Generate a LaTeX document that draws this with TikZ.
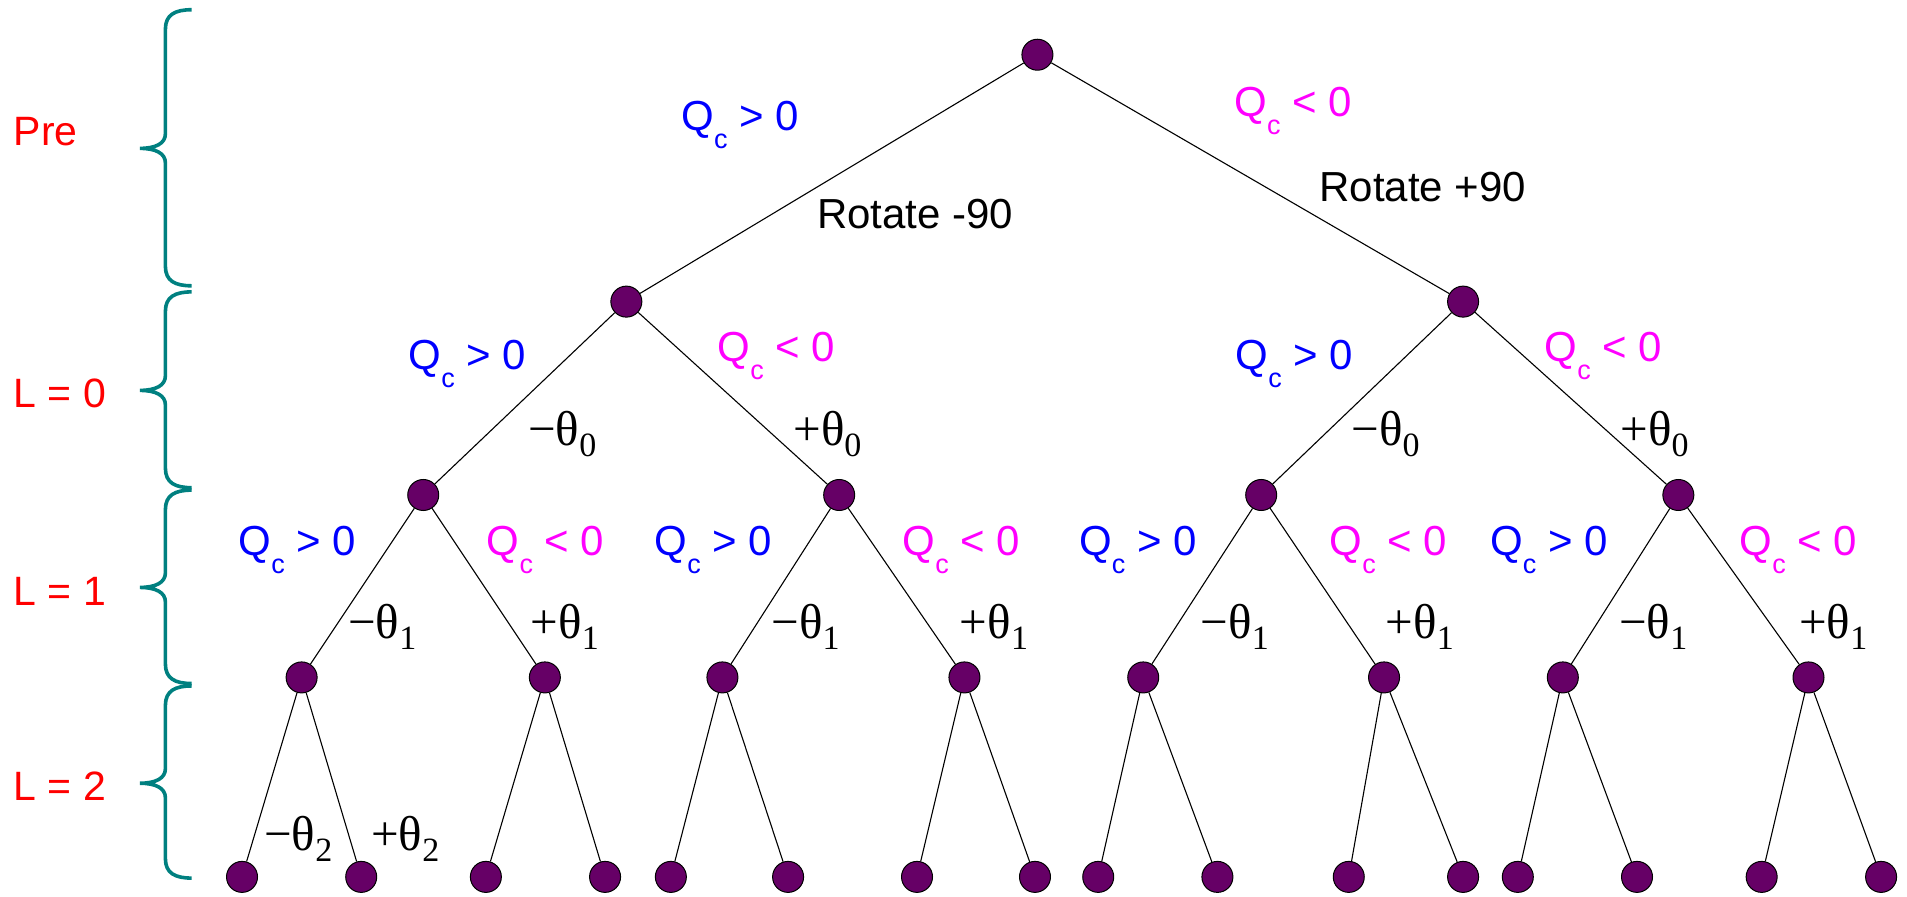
\documentclass[tikz,border=0pt]{standalone}
\usepackage{fontspec}
\setmainfont{Liberation Serif}
\newfontfamily\arialf{Liberation Sans}
\definecolor{nodepurple}{RGB}{102,0,102}
\definecolor{braceteal}{RGB}{0,128,128}
\definecolor{qmag}{RGB}{255,0,255}
\definecolor{qblue}{RGB}{0,0,255}
\definecolor{levred}{RGB}{255,0,0}
\newcommand\qsub{\raisebox{-9pt}{\fontsize{13.5pt}{13.5pt}\selectfont c}}
\newcommand\qgt{\arialf\fontsize{21pt}{21pt}\selectfont Q\qsub{} > 0}
\newcommand\qlt{\arialf\fontsize{21pt}{21pt}\selectfont Q\qsub{} < 0}
\newcommand\thsub[1]{\raisebox{-5.5pt}{\fontsize{17pt}{17pt}\selectfont #1}}
\newcommand\thm[1]{\fontsize{24.5pt}{24.5pt}\selectfont −θ\thsub{#1}}
\newcommand\thp[1]{\fontsize{24.5pt}{24.5pt}\selectfont +θ\thsub{#1}}
\newcommand\tbrace[3]{\draw[bracestyle] (157.6,#1) .. controls (144,#1) and (136,#1+4) .. (136,#1+16) -- (136,#2-12) .. controls (136,#2-4) and (128,#2) .. (115,#2) .. controls (128,#2) and (136,#2+4) .. (136,#2+12) -- (136,#3-16) .. controls (136,#3-4) and (144,#3) .. (157.6,#3);}
\begin{document}
\begin{tikzpicture}[x=0.6081pt,y=-0.6081pt,
  vtx/.style={circle, draw=black, line width=0.5pt, fill=nodepurple, minimum size=15.5pt, inner sep=0pt},
  edge/.style={black, line width=0.55pt},
  lbl/.style={anchor=base west, inner sep=0pt},
  qpos/.style={lbl, text=qblue},
  qneg/.style={lbl, text=qmag},
  lev/.style={lbl, text=levred, font=\arialf\fontsize{20.5pt}{20.5pt}\selectfont},
  bracestyle/.style={draw=braceteal, line width=1.8pt}]
\useasboundingbox (0,0) rectangle (1568,737);
% braces and level labels
\tbrace{8}{122}{235}
\tbrace{240}{321}{401}
\tbrace{403}{483}{562}
\tbrace{564}{644}{722}
\node[lev] (lpre) at (11,120) {Pre};
\node[lev] (l0) at (11,335) {L = 0};
\node[lev] (l1) at (11,497.5) {L = 1};
\node[lev] (l2) at (11,658) {L = 2};
% nodes
\node[vtx] (r) at (853,45) {};
\node[vtx] (a) at (515,248) {};
\node[vtx] (b) at (1203,248) {};
\node[vtx] (c1) at (348,407) {};
\node[vtx] (c2) at (690,407) {};
\node[vtx] (c3) at (1037,407) {};
\node[vtx] (c4) at (1380,407) {};
\node[vtx] (d1) at (248,557) {};
\node[vtx] (d2) at (448,557) {};
\node[vtx] (d3) at (594,557) {};
\node[vtx] (d4) at (793,557) {};
\node[vtx] (d5) at (940,557) {};
\node[vtx] (d6) at (1138,557) {};
\node[vtx] (d7) at (1285,557) {};
\node[vtx] (d8) at (1487,557) {};
\foreach \n/\x in {e1/199,e2/297,e3/399.5,e4/497.5,e5/551.6,e6/648,e7/754,e8/851,e9/903,e10/1001,e11/1109,e12/1203,e13/1248,e14/1346,e15/1448.5,e16/1546.7}
  \node[vtx] (\n) at (\x,721) {};
% edges
\draw[edge] (r) -- (a);
\draw[edge] (r) -- (b);
\draw[edge] (a) -- (c1);
\draw[edge] (a) -- (c2);
\draw[edge] (b) -- (c3);
\draw[edge] (b) -- (c4);
\draw[edge] (c1) -- (d1);
\draw[edge] (c1) -- (d2);
\draw[edge] (c2) -- (d3);
\draw[edge] (c2) -- (d4);
\draw[edge] (c3) -- (d5);
\draw[edge] (c3) -- (d6);
\draw[edge] (c4) -- (d7);
\draw[edge] (c4) -- (d8);
\draw[edge] (d1) -- (e1);
\draw[edge] (d1) -- (e2);
\draw[edge] (d2) -- (e3);
\draw[edge] (d2) -- (e4);
\draw[edge] (d3) -- (e5);
\draw[edge] (d3) -- (e6);
\draw[edge] (d4) -- (e7);
\draw[edge] (d4) -- (e8);
\draw[edge] (d5) -- (e9);
\draw[edge] (d5) -- (e10);
\draw[edge] (d6) -- (e11);
\draw[edge] (d6) -- (e12);
\draw[edge] (d7) -- (e13);
\draw[edge] (d7) -- (e14);
\draw[edge] (d8) -- (e15);
\draw[edge] (d8) -- (e16);
% top labels
\node[qpos] (t1) at (560,107) {\qgt};
\node[qneg] (t2) at (1014.6,96) {\qlt};
\node[lbl, font=\arialf\fontsize{21pt}{21pt}\selectfont] (rm) at (671.5,187.6) {Rotate -90};
\node[lbl, font=\arialf\fontsize{21pt}{21pt}\selectfont] (rp) at (1084.5,166) {Rotate +90};
% level 1 labels
\node[qpos] (q1a) at (335.7,304) {\qgt};
\node[qneg] (q1b) at (589.8,297.4) {\qlt};
\node[lbl] (th0a) at (434,366) {\thm{0}};
\node[lbl] (th0b) at (652,366) {\thp{0}};
\node[qpos] (q1c) at (1015.7,304) {\qgt};
\node[qneg] (q1d) at (1269.8,297.4) {\qlt};
\node[lbl] (th0c) at (1111,366) {\thm{0}};
\node[lbl] (th0d) at (1332,366) {\thp{0}};
% level 2 labels
\foreach \i/\qa/\qb/\ta/\tb in {1/196/400/286/436, 2/538/742/634/789, 3/887/1093/987/1139, 4/1225/1430/1331/1479}{
  \node[qpos] (q2p\i) at (\qa,457) {\qgt};
  \node[qneg] (q2n\i) at (\qb,457) {\qlt};
  \node[lbl] (th1m\i) at (\ta,525) {\thm{1}};
  \node[lbl] (th1p\i) at (\tb,525) {\thp{1}};
}
% level 3 labels
\node[lbl] (th2m) at (217,699) {\thm{2}};
\node[lbl] (th2p) at (305,699) {\thp{2}};
\end{tikzpicture}
\end{document}
